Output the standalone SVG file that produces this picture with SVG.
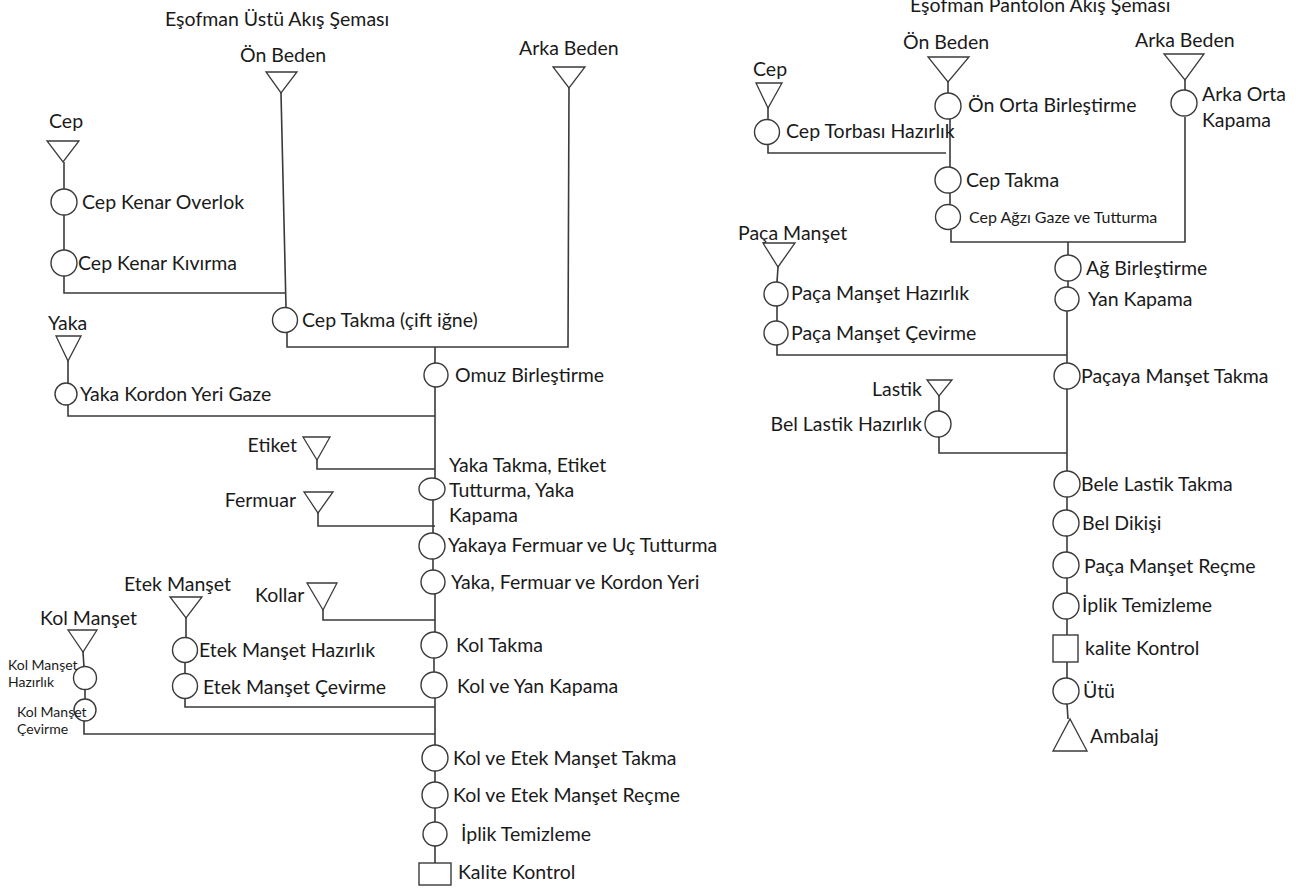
<svg xmlns="http://www.w3.org/2000/svg" width="1305" height="890" viewBox="0 0 1305 890">
<style>
.bg{fill:#ffffff}
.c{fill:#fff;stroke:#3a3a3a;stroke-width:1.4}
.s{fill:#fff;stroke:#3a3a3a;stroke-width:1.4}
.tr{fill:#fff;stroke:#3a3a3a;stroke-width:1.3}
.ln{fill:none;stroke:#3a3a3a;stroke-width:1.6}
text{font-family:Lato,"Open Sans","Liberation Sans",sans-serif;font-size:19.5px;fill:#1a1a1a}
.sm{font-size:14px}
.md{font-size:16px}
</style>
<rect class="bg" x="0" y="0" width="1305" height="890"/>

<g id="connectors">
<!-- Left chart -->
<polyline class="ln" points="281,93 286,307"/>
<polyline class="ln" points="64,162 64,189"/>
<polyline class="ln" points="64,215 64,250"/>
<polyline class="ln" points="64,276 64,293 286,293"/>
<polyline class="ln" points="569,88 568,347 287,347 287,333"/>
<polyline class="ln" points="435,347 435,363"/>
<polyline class="ln" points="68,361 68,383"/>
<polyline class="ln" points="68,405 68,416 435,416"/>
<polyline class="ln" points="435,387 435,478"/>
<polyline class="ln" points="317,460 317,469 435,469"/>
<polyline class="ln" points="433,500 433,533"/>
<polyline class="ln" points="318,513 318,526 435,526"/>
<polyline class="ln" points="433,559 433,570"/>
<polyline class="ln" points="435,594 435,632"/>
<polyline class="ln" points="323,610 323,620 435,620"/>
<polyline class="ln" points="434,658 434,672"/>
<polyline class="ln" points="435,698 435,746"/>
<polyline class="ln" points="186,618 186,638"/>
<polyline class="ln" points="185,663 185,673"/>
<polyline class="ln" points="185,699 185,707 435,707"/>
<polyline class="ln" points="83,652 84,667"/>
<polyline class="ln" points="85,689 85,699"/>
<polyline class="ln" points="84,721 84,734 435,734"/>
<polyline class="ln" points="435,771 435,782"/>
<polyline class="ln" points="435,808 435,822"/>
<polyline class="ln" points="435,846 435,863"/>
<!-- Right chart -->
<polyline class="ln" points="948,82 948,93"/>
<polyline class="ln" points="950,119 950,167"/>
<polyline class="ln" points="768,108 768,120"/>
<polyline class="ln" points="768,145 768,153 946,153"/>
<polyline class="ln" points="950,193 950,204"/>
<polyline class="ln" points="951,230 951,242 1185,242 1185,117"/>
<polyline class="ln" points="1185,80 1185,90"/>
<polyline class="ln" points="1068,242 1068,255"/>
<polyline class="ln" points="1068,281 1068,287"/>
<polyline class="ln" points="1067,311 1067,363"/>
<polyline class="ln" points="778,267 777,282"/>
<polyline class="ln" points="777,306 777,321"/>
<polyline class="ln" points="777,345 777,355 1067,355"/>
<polyline class="ln" points="1067,389 1067,471"/>
<polyline class="ln" points="939,396 939,411"/>
<polyline class="ln" points="939,437 939,453 1067,453"/>
<polyline class="ln" points="1067,497 1067,510"/>
<polyline class="ln" points="1067,536 1067,552"/>
<polyline class="ln" points="1067,578 1067,593"/>
<polyline class="ln" points="1067,619 1067,635"/>
<polyline class="ln" points="1067,662 1067,678"/>
<polyline class="ln" points="1067,704 1068,719"/>
</g>

<text x="165" y="26">Eşofman Üstü Akış Şeması</text>
<text x="910" y="12">Eşofman Pantolon Akış Şeması</text>

<!-- Left chart nodes -->
<g id="on-beden-l"><text x="240" y="62">Ön Beden</text><polygon class="tr" points="266,72 297,72 281,93"/></g>
<g id="arka-beden-l"><text x="519" y="55">Arka Beden</text><polygon class="tr" points="553,67 585,67 569,88"/></g>
<g id="cep-l"><text x="49" y="128">Cep</text><polygon class="tr" points="47,141 79,141 63,162"/></g>
<g id="cep-kenar-overlok"><circle class="c" cx="64" cy="202" r="13"/><text x="82" y="209">Cep Kenar Overlok</text></g>
<g id="cep-kenar-kivirma"><circle class="c" cx="64" cy="263" r="13"/><text x="78" y="270">Cep Kenar Kıvırma</text></g>
<g id="cep-takma-l"><circle class="c" cx="285" cy="320" r="12.5"/><text x="302" y="327">Cep Takma (çift iğne)</text></g>
<g id="omuz"><circle class="c" cx="436" cy="375" r="12"/><text x="455" y="382">Omuz Birleştirme</text></g>
<g id="yaka"><text x="48" y="330">Yaka</text><polygon class="tr" points="56,336 81,336 68,361"/></g>
<g id="yaka-kordon"><circle class="c" cx="66" cy="394" r="11"/><text x="80" y="401">Yaka Kordon Yeri Gaze</text></g>
<g id="etiket"><text x="297" y="452" text-anchor="end">Etiket</text><polygon class="tr" points="303,437 330,437 317,460"/></g>
<g id="yaka-takma"><ellipse class="c" cx="432" cy="489" rx="13" ry="11"/><text x="449" y="472">Yaka Takma, Etiket</text><text x="449" y="497">Tutturma, Yaka</text><text x="449" y="522">Kapama</text></g>
<g id="fermuar"><text x="296" y="507" text-anchor="end">Fermuar</text><polygon class="tr" points="304,492 333,492 318,513"/></g>
<g id="yakaya-fermuar"><circle class="c" cx="432" cy="546" r="13"/><text x="448" y="552">Yakaya Fermuar ve Uç Tutturma</text></g>
<g id="yaka-fermuar-kordon"><circle class="c" cx="433" cy="582" r="12"/><text x="451" y="589">Yaka, Fermuar ve Kordon Yeri</text></g>
<g id="kollar"><text x="255" y="602">Kollar</text><polygon class="tr" points="307,583 337,583 323,610"/></g>
<g id="kol-takma"><circle class="c" cx="434" cy="645" r="13"/><text x="456" y="652">Kol Takma</text></g>
<g id="kol-yan-kapama"><circle class="c" cx="434" cy="685" r="13"/><text x="457" y="693">Kol ve Yan Kapama</text></g>
<g id="etek-manset"><text x="124" y="591">Etek Manşet</text><polygon class="tr" points="170,597 202,597 186,618"/></g>
<g id="etek-manset-hazirlik"><circle class="c" cx="185" cy="650" r="12.5"/><text x="199" y="657">Etek Manşet Hazırlık</text></g>
<g id="etek-manset-cevirme"><circle class="c" cx="185" cy="686" r="12.5"/><text x="203" y="694">Etek Manşet Çevirme</text></g>
<g id="kol-manset"><text x="40" y="625">Kol Manşet</text><polygon class="tr" points="68,630 97,630 83,652"/></g>
<g id="kol-manset-hazirlik"><circle class="c" cx="85" cy="678" r="11.5"/><text class="sm" x="8" y="670">Kol Manşet</text><text class="sm" x="8" y="687">Hazırlık</text></g>
<g id="kol-manset-cevirme"><circle class="c" cx="85" cy="710" r="11"/><text class="sm" x="17" y="717">Kol Manşet</text><text class="sm" x="17" y="734">Çevirme</text></g>
<g id="kol-etek-takma"><circle class="c" cx="435" cy="758" r="13"/><text x="453" y="765">Kol ve Etek Manşet Takma</text></g>
<g id="kol-etek-recme"><circle class="c" cx="435" cy="795" r="13"/><text x="453" y="802">Kol ve Etek Manşet Reçme</text></g>
<g id="iplik-l"><circle class="c" cx="435" cy="834" r="12"/><text x="461" y="841">İplik Temizleme</text></g>
<g id="kalite-l"><rect class="s" x="419" y="863" width="32" height="22"/><text x="458" y="879">Kalite Kontrol</text></g>

<!-- Right chart nodes -->
<g id="on-beden-r"><text x="903" y="49">Ön Beden</text><polygon class="tr" points="928,57 969,57 948,82"/></g>
<g id="on-orta"><circle class="c" cx="948" cy="106" r="13"/><text x="968" y="112">Ön Orta Birleştirme</text></g>
<g id="cep-r"><text x="753" y="76">Cep</text><polygon class="tr" points="756,83 782,83 768,108"/></g>
<g id="cep-torbasi"><circle class="c" cx="767" cy="132" r="12.5"/><text x="786" y="138">Cep Torbası Hazırlık</text></g>
<g id="cep-takma-r"><circle class="c" cx="948" cy="180" r="13"/><text x="966" y="187">Cep Takma</text></g>
<g id="cep-agzi"><circle class="c" cx="948" cy="217" r="12.5"/><text class="md" x="969" y="223">Cep Ağzı Gaze ve Tutturma</text></g>
<g id="arka-beden-r"><text x="1135" y="47">Arka Beden</text><polygon class="tr" points="1164,54 1204,54 1185,80"/></g>
<g id="arka-orta"><circle class="c" cx="1184" cy="103" r="13"/><text x="1202" y="101">Arka Orta</text><text x="1202" y="127">Kapama</text></g>
<g id="ag-birlestirme"><circle class="c" cx="1068" cy="268" r="13"/><text x="1086" y="275">Ağ Birleştirme</text></g>
<g id="yan-kapama"><circle class="c" cx="1067" cy="299" r="12"/><text x="1088" y="306">Yan Kapama</text></g>
<g id="paca-manset"><text x="738" y="240">Paça Manşet</text><polygon class="tr" points="763,243 795,243 778,267"/></g>
<g id="paca-manset-hazirlik"><circle class="c" cx="776" cy="294" r="12"/><text x="791" y="300">Paça Manşet Hazırlık</text></g>
<g id="paca-manset-cevirme"><circle class="c" cx="776" cy="333" r="12"/><text x="791" y="340">Paça Manşet Çevirme</text></g>
<g id="pacaya-manset"><circle class="c" cx="1067" cy="376" r="13"/><text x="1081" y="383">Paçaya Manşet Takma</text></g>
<g id="lastik"><text x="922" y="396" text-anchor="end">Lastik</text><polygon class="tr" points="927,380 952,380 939,396"/></g>
<g id="bel-lastik-hazirlik"><circle class="c" cx="938" cy="424" r="13"/><text x="922" y="431" text-anchor="end">Bel Lastik Hazırlık</text></g>
<g id="bele-lastik"><circle class="c" cx="1067" cy="484" r="13"/><text x="1081" y="491">Bele Lastik Takma</text></g>
<g id="bel-dikisi"><circle class="c" cx="1066" cy="523" r="13"/><text x="1082" y="530">Bel Dikişi</text></g>
<g id="paca-manset-recme"><circle class="c" cx="1066" cy="565" r="13"/><text x="1084" y="573">Paça Manşet Reçme</text></g>
<g id="iplik-r"><circle class="c" cx="1066" cy="606" r="13"/><text x="1082" y="612">İplik Temizleme</text></g>
<g id="kalite-r"><rect class="s" x="1053" y="635" width="25" height="27"/><text x="1085" y="655">kalite Kontrol</text></g>
<g id="utu"><circle class="c" cx="1066" cy="691" r="13"/><text x="1083" y="698">Ütü</text></g>
<g id="ambalaj"><polygon class="tr" points="1053,751 1087,751 1070,719"/><text x="1090" y="743">Ambalaj</text></g>
</svg>
